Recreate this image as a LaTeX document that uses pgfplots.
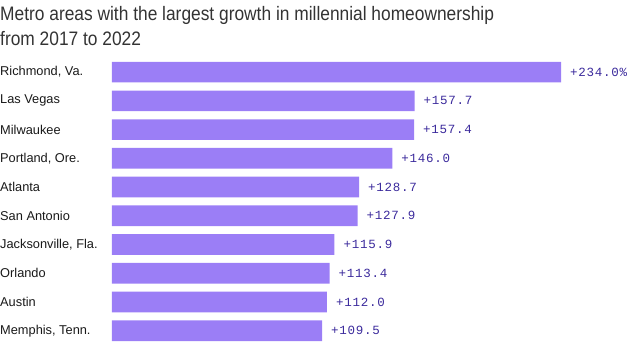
\documentclass[border=0pt]{standalone}
\usepackage{fontspec}
\setmainfont{Liberation Sans}
\newfontfamily\titlefont[FakeStretch=0.89]{Liberation Sans}
\newfontfamily\monofont[LetterSpace=6]{Liberation Mono}
\usepackage{pgfplots}
\pgfplotsset{compat=1.18}
\definecolor{barc}{HTML}{9B7EF6}
\definecolor{labc}{HTML}{3B2A9C}
\definecolor{titc}{HTML}{333333}
\begin{document}
\begin{tikzpicture}
\path[use as bounding box] (0pt,0pt) rectangle (640pt,359pt);
\node[anchor=base west, inner sep=0, font=\titlefont\fontsize{19.5}{23}\selectfont, text=titc] at (0pt,338pt) {Metro areas with the largest growth in millennial homeownership};
\node[anchor=base west, inner sep=0, font=\titlefont\fontsize{19.5}{23}\selectfont, text=titc] at (0pt,313pt) {from 2017 to 2022};
\begin{axis}[
  at={(112pt,13.9pt)}, anchor=south west,
  scale only axis, width=520pt, height=287.4pt,
  xmin=0, xmax=270.9,
  ymin=-0.5, ymax=9.5, y dir=reverse,
  axis line style={draw=none}, tick style={draw=none},
  xtick=\empty,
  ytick={0,...,9},
  yticklabels={{Richmond, Va.},{Las Vegas},{Milwaukee},{Portland, Ore.},{Atlanta},{San Antonio},{Jacksonville, Fla.},{Orlando},{Austin},{Memphis, Tenn.}},
  yticklabel style={anchor=west, xshift=-112pt, font=\fontsize{12.8}{14}\selectfont, text=black!90, inner sep=0pt},
  clip=false,
]
\addplot[xbar, bar width=20.6pt, fill=barc, draw=none,
  point meta=explicit symbolic,
  nodes near coords={\pgfplotspointmeta},
  nodes near coords style={anchor=west, xshift=5.5pt, font=\monofont\fontsize{12.5}{14}\selectfont, text=labc},
] table[meta=lab] {
x y lab
234.0 0 +234.0\%
157.7 1 +157.7
157.4 2 +157.4
146.0 3 +146.0
128.7 4 +128.7
127.9 5 +127.9
115.9 6 +115.9
113.4 7 +113.4
112.0 8 +112.0
109.5 9 +109.5
};
\end{axis}
\end{tikzpicture}
\end{document}
